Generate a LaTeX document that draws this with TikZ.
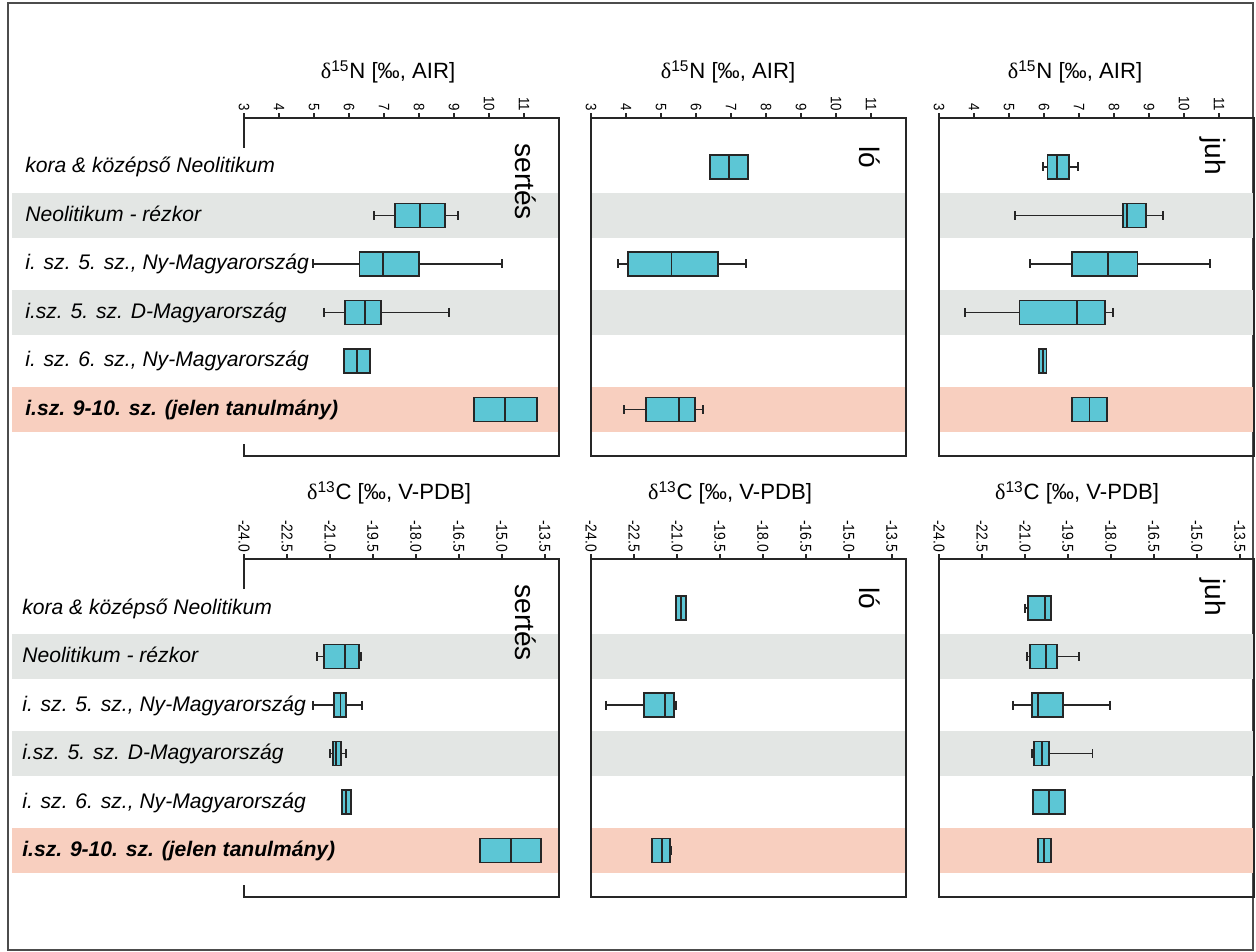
\documentclass[tikz,border=0pt]{standalone}
\usepackage{fontspec}
\setmainfont{Liberation Sans}
\newfontfamily\greekserif{Liberation Serif}
\usetikzlibrary{calc}
\definecolor{BoxCyan}{RGB}{92,198,213}
\definecolor{BandGray}{RGB}{227,230,228}
\definecolor{BandSalmon}{RGB}{248,207,191}

% one box plot: row, low whisker, Q1, median, Q3, high whisker
\newcommand{\bxp}[6]{%
  \pgfmathsetmacro{\bxy}{\axy+49+48.5*#1}
  \pgfmathsetmacro{\bxl}{\xorg+(#2-(\vmin))*\ppu}
  \pgfmathsetmacro{\bxa}{\xorg+(#3-(\vmin))*\ppu}
  \pgfmathsetmacro{\bxm}{\xorg+(#4-(\vmin))*\ppu}
  \pgfmathsetmacro{\bxb}{\xorg+(#5-(\vmin))*\ppu}
  \pgfmathsetmacro{\bxh}{\xorg+(#6-(\vmin))*\ppu}
  \draw[whisk] (\bxl,\bxy) -- (\bxh,\bxy);
  \draw[whisk] (\bxl,\bxy-4.5) -- (\bxl,\bxy+4.5);
  \draw[whisk] (\bxh,\bxy-4.5) -- (\bxh,\bxy+4.5);
  \draw[bx] (\bxa,\bxy-12) rectangle (\bxb,\bxy+12);
  \draw[whisk] (\bxm,\bxy-12) -- (\bxm,\bxy+12);
}
\newcommand{\dN}{{\greekserif δ}\textsuperscript{15}N [‰, AIR]}
\newcommand{\dC}{{\greekserif δ}\textsuperscript{13}C [‰, V-PDB]}
\newcommand{\tk}[1]{\scalebox{0.88}[1]{#1}}

\begin{document}
\begin{tikzpicture}[x=0.02cm, y=-0.02cm,
    every node/.style={inner sep=0pt},
    frame/.style={black!85, line width=1.1pt},
    bx/.style={draw=black!85, line width=1.1pt, fill=BoxCyan},
    whisk/.style={black!85, line width=1.1pt},
    rowlab/.style={anchor=base west, font=\fontsize{12}{14}\selectfont\itshape},
    ticklab/.style={rotate=-90, anchor=east, inner sep=1pt, font=\fontsize{8.6}{10}\selectfont},
    ctick/.style={ticklab, font=\fontsize{9}{10}\selectfont},
    axtitle/.style={font=\fontsize{12.6}{15}\selectfont},
    species/.style={rotate=-90, anchor=base west, font=\fontsize{16}{18}\selectfont}]
  \useasboundingbox (0,0) rectangle (1256,952);
  \draw[black!70, line width=1.1pt] (8,3) rectangle (1253,950);

  % Bands behind the rows (gray, gray, salmon)
  \foreach \axy in {118,559} {
    \foreach \xa/\xb in {12/559, 591/906, 939/1254} {
      \foreach \r in {1,3}
        \fill[BandGray] (\xa,\axy+49+48.5*\r-22.5) rectangle (\xb,\axy+49+48.5*\r+22.5);
      \fill[BandSalmon] (\xa,\axy+49+48.5*5-22.5) rectangle (\xb,\axy+49+48.5*5+22.5);
    }
  }

  % Panel frames
  \foreach \axy in {118,559} {
    \draw[frame] (244,\axy+30) -- (244,\axy) -- (559,\axy) -- (559,\axy+338) -- (244,\axy+338) -- (244,\axy+326);
    \draw[frame] (591,\axy) rectangle (906,\axy+338);
    \draw[frame] (939,\axy) rectangle (1254,\axy+338);
  }

  % Axis ticks
  \foreach \xorg in {244,591,939} {
    \foreach \v in {3,...,11} {
      \draw[frame] (\xorg+35*\v-105,118) -- (\xorg+35*\v-105,113);
      \node[ticklab] at (\xorg+35*\v-105,113) {\tk{\v}};
    }
    \foreach \v in {-24.0,-22.5,-21.0,-19.5,-18.0,-16.5,-15.0,-13.5} {
      \draw[frame] (\xorg+28.64*\v+687.4,559) -- (\xorg+28.64*\v+687.4,554);
      \node[ctick] at (\xorg+28.64*\v+687.4,554) {\tk{\v}};
    }
  }

  % Axis titles
  \node[axtitle] (tN1) at (388,72) {\dN};
  \node[axtitle] (tN2) at (728,72) {\dN};
  \node[axtitle] (tN3) at (1075,72) {\dN};
  \node[axtitle] (tC1) at (389,493) {\dC};
  \node[axtitle] (tC2) at (730,493) {\dC};
  \node[axtitle] (tC3) at (1077,493) {\dC};

  % Species
  \foreach \axy in {118,559} {
    \node[species] at (515,\axy+25) {sertés};
    \node[species] at (859,\axy+28) {ló};
    \node[species] at (1205,\axy+19) {juh};
  }

  % Period labels
  \foreach \axy/\lx in {118/25, 559/22} {
    \foreach \t [count=\r from 0] in {kora \& középső Neolitikum, Neolitikum - rézkor,
        {i. sz. 5. sz., Ny-Magyarország}, i.sz. 5. sz. D-Magyarország, {i. sz. 6. sz., Ny-Magyarország}}
      \node[rowlab] at (\lx,\axy+49+48.5*\r+6) {\t};
    \node[rowlab, font=\fontsize{12}{14}\selectfont\bfseries\itshape] at (\lx,\axy+49+48.5*5+6) {i.sz. 9-10. sz. (jelen tanulmány)};
  }

  % delta15N boxes
  \def\axy{118}\def\vmin{3}\def\ppu{35}
  \def\xorg{244}
  \foreach \r/\lo/\qa/\md/\qb/\hi in {1/6.71/7.32/8.03/8.74/9.11, 2/4.97/6.30/6.96/8.00/10.38,
      3/5.29/5.89/6.47/6.92/8.87, 4/5.87/5.87/6.23/6.59/6.59, 5/9.56/9.56/10.46/11.37/11.37}
    {\bxp{\r}{\lo}{\qa}{\md}{\qb}{\hi}}
  \def\xorg{591}
  \foreach \r/\lo/\qa/\md/\qb/\hi in {0/6.39/6.39/6.93/7.49/7.49, 2/3.77/4.05/5.30/6.63/7.42,
      5/3.94/4.57/5.51/5.96/6.19}
    {\bxp{\r}{\lo}{\qa}{\md}{\qb}{\hi}}
  \def\xorg{939}
  \foreach \r/\lo/\qa/\md/\qb/\hi in {0/5.96/6.10/6.38/6.72/6.97, 1/5.17/8.26/8.36/8.91/9.40,
      2/5.59/6.80/7.84/8.67/10.73, 3/3.73/5.30/6.94/7.75/7.96, 4/5.86/5.86/5.97/6.07/6.07,
      5/6.81/6.81/7.30/7.80/7.80}
    {\bxp{\r}{\lo}{\qa}{\md}{\qb}{\hi}}

  % delta13C boxes
  \def\axy{559}\def\vmin{-24}\def\ppu{28.64}
  \def\xorg{244}
  \foreach \r/\lo/\qa/\md/\qb/\hi in {1/-21.45/-21.21/-20.47/-20.00/-19.92, 2/-21.59/-20.87/-20.63/-20.43/-19.88,
      3/-21.00/-20.90/-20.79/-20.61/-20.43, 4/-20.59/-20.59/-20.45/-20.28/-20.28,
      5/-15.75/-15.75/-14.68/-13.64/-13.64}
    {\bxp{\r}{\lo}{\qa}{\md}{\qb}{\hi}}
  \def\xorg{591}
  \foreach \r/\lo/\qa/\md/\qb/\hi in {0/-21.02/-21.02/-20.85/-20.69/-20.69, 2/-23.47/-22.15/-21.41/-21.11/-21.03,
      5/-21.86/-21.86/-21.51/-21.24/-21.20}
    {\bxp{\r}{\lo}{\qa}{\md}{\qb}{\hi}}
  \def\xorg{939}
  \foreach \r/\lo/\qa/\md/\qb/\hi in {0/-21.01/-20.90/-20.31/-20.10/-20.10, 1/-20.94/-20.82/-20.27/-19.89/-19.10,
      2/-21.43/-20.76/-20.54/-19.68/-18.02, 3/-20.76/-20.69/-20.42/-20.15/-18.64,
      4/-20.71/-20.71/-20.16/-19.60/-19.60, 5/-20.54/-20.54/-20.33/-20.08/-20.08}
    {\bxp{\r}{\lo}{\qa}{\md}{\qb}{\hi}}
\end{tikzpicture}
\end{document}
